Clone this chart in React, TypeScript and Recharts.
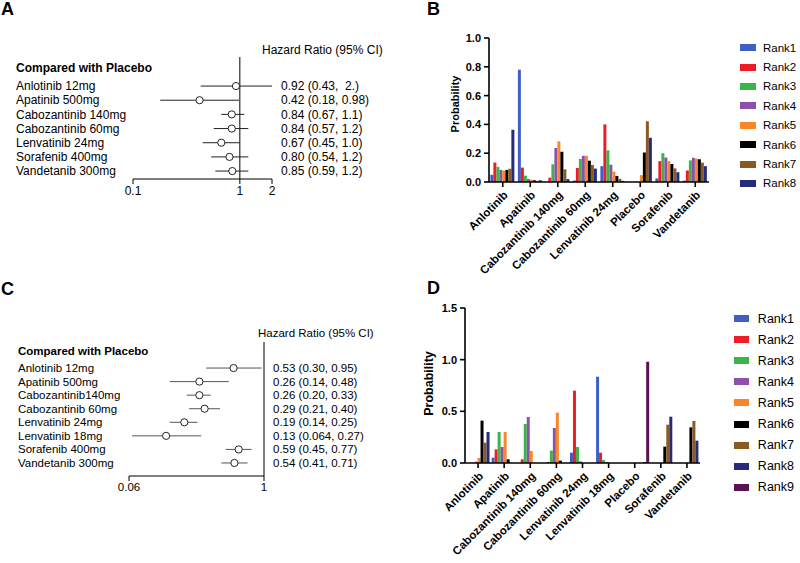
import React from 'react';
import {
  ScatterChart, Scatter, XAxis, YAxis, ErrorBar, ReferenceLine,
  BarChart, Bar, Legend,
} from 'recharts';

const FONT = '"Liberation Sans", Arial, Helvetica, sans-serif';

// ---- panel A: HR vs placebo (forest) ----
const drugsA = ['Anlotinib 12mg', 'Apatinib 500mg', 'Cabozantinib 140mg', 'Cabozantinib 60mg', 'Lenvatinib 24mg', 'Sorafenib 400mg', 'Vandetanib 300mg'];
const hrA = [0.92, 0.42, 0.84, 0.84, 0.67, 0.80, 0.85];
const lowA = [0.43, 0.18, 0.67, 0.57, 0.45, 0.54, 0.59];
const highA = [2.0, 0.98, 1.1, 1.2, 1.0, 1.2, 1.2];
const ciTextA = ['0.92 (0.43,  2.)', '0.42 (0.18, 0.98)', '0.84 (0.67, 1.1)', '0.84 (0.57, 1.2)', '0.67 (0.45, 1.0)', '0.80 (0.54, 1.2)', '0.85 (0.59, 1.2)'];
const ticksA = [0.1, 1, 2];

// ---- panel C: HR vs placebo (forest) ----
const drugsC = ['Anlotinib 12mg', 'Apatinib 500mg', 'Cabozantinib140mg', 'Cabozantinib 60mg', 'Lenvatinib 24mg', 'Lenvatinib 18mg', 'Sorafenib 400mg', 'Vandetanib 300mg'];
const hrC = [0.53, 0.26, 0.26, 0.29, 0.19, 0.13, 0.59, 0.54];
const lowC = [0.30, 0.14, 0.20, 0.21, 0.14, 0.064, 0.45, 0.41];
const highC = [0.95, 0.48, 0.33, 0.40, 0.25, 0.27, 0.77, 0.71];
const ciTextC = ['0.53 (0.30, 0.95)', '0.26 (0.14, 0.48)', '0.26 (0.20, 0.33)', '0.29 (0.21, 0.40)', '0.19 (0.14, 0.25)', '0.13 (0.064, 0.27)', '0.59 (0.45, 0.77)', '0.54 (0.41, 0.71)'];
const ticksC = [0.06, 1];

// ---- panel B: rank probabilities ----
const groupsB = ['Anlotinib', 'Apatinib', 'Cabozantinib 140mg', 'Cabozantinib 60mg', 'Lenvatinib 24mg', 'Placebo', 'Sorafenib', 'Vandetanib'];
const rank1B = [0.05, 0.78, 0, 0.01, 0.11, 0, 0.025, 0.01];
const rank2B = [0.135, 0.10, 0.03, 0.097, 0.40, 0, 0.145, 0.08];
const rank3B = [0.105, 0.044, 0.123, 0.16, 0.22, 0, 0.20, 0.15];
const rank4B = [0.084, 0.021, 0.236, 0.182, 0.12, 0, 0.17, 0.168];
const rank5B = [0.079, 0.016, 0.282, 0.182, 0.072, 0.048, 0.145, 0.163];
const rank6B = [0.084, 0.012, 0.21, 0.148, 0.042, 0.205, 0.125, 0.158];
const rank7B = [0.092, 0.008, 0.088, 0.118, 0.022, 0.422, 0.095, 0.134];
const rank8B = [0.363, 0.012, 0.02, 0.093, 0.008, 0.307, 0.068, 0.11];
const ticksB = [0, 0.2, 0.4, 0.6, 0.8, 1.0];

// ---- panel D: rank probabilities ----
const groupsD = ['Anlotinib', 'Apatinib', 'Cabozantinib 140mg', 'Cabozantinib 60mg', 'Lenvatinib 24mg', 'Lenvatinib 18mg', 'Placebo', 'Sorafenib', 'Vandetanib'];
const rank1D = [0, 0.052, 0, 0, 0.10, 0.835, 0, 0, 0];
const rank2D = [0, 0.132, 0.036, 0.01, 0.70, 0.10, 0, 0, 0];
const rank3D = [0, 0.30, 0.378, 0.12, 0.155, 0.03, 0, 0, 0];
const rank4D = [0.013, 0.155, 0.445, 0.339, 0.016, 0.01, 0, 0, 0];
const rank5D = [0.048, 0.30, 0.116, 0.487, 0, 0, 0, 0, 0];
const rank6D = [0.41, 0.036, 0, 0.023, 0, 0, 0, 0.158, 0.345];
const rank7D = [0.197, 0, 0, 0, 0, 0, 0, 0.371, 0.407];
const rank8D = [0.30, 0, 0, 0, 0, 0, 0.01, 0.448, 0.216];
const rank9D = [0, 0, 0, 0, 0, 0, 0.98, 0, 0];
const ticksD = [0, 0.5, 1.0, 1.5];

const RANK_COLORS = ['#3f5fc4', '#ee1c25', '#3bb44a', '#8e50ad', '#f7882a', '#000000', '#8a5a24', '#272b7c', '#5b1250'];

const rowsA = drugsA.map((d, i) => ({ row: i, hr: hrA[i], err: [hrA[i] - lowA[i], highA[i] - hrA[i]] }));
const rowsC = drugsC.map((d, i) => ({ row: i, hr: hrC[i], err: [hrC[i] - lowC[i], highC[i] - hrC[i]] }));

const rankSeriesB = [rank1B, rank2B, rank3B, rank4B, rank5B, rank6B, rank7B, rank8B];
const rankSeriesD = [rank1D, rank2D, rank3D, rank4D, rank5D, rank6D, rank7D, rank8D, rank9D];
const toRows = (groups: string[], series: number[][]) =>
  groups.map((g, i) => {
    const r: any = { name: g };
    series.forEach((s, k) => { r['Rank' + (k + 1)] = s[i]; });
    return r;
  });
const rowsB = toRows(groupsB, rankSeriesB);
const rowsD = toRows(groupsD, rankSeriesD);

function Txt({ x, cy, size, bold, children }: any) {
  return (
    <div style={{ position: 'absolute', left: x, top: cy - 10, lineHeight: '20px', fontSize: size, fontWeight: bold ? 'bold' : 'normal', whiteSpace: 'pre' }}>
      {children}
    </div>
  );
}

function ForestTick({ y, payload, labels, values, labelX, valueX, size }: any) {
  const i = payload.value;
  return (
    <g fontFamily={FONT} fontSize={size} fill="#000">
      <text x={labelX} y={y} dy="0.35em" textAnchor="start">{labels[i]}</text>
      <text x={valueX} y={y} dy="0.35em" textAnchor="start" style={{ whiteSpace: 'pre' }}>{values[i]}</text>
    </g>
  );
}

function Dot({ cx, cy, stroke }: any) {
  return <circle cx={cx} cy={cy} r={3.6} fill="#fff" stroke={stroke} strokeWidth={1} />;
}

function Forest({ rows, labels, values, ticks, domain, yDomain, height, margin, axisW, labelX, valueX, size, lineColor }: any) {
  return (
    <ScatterChart width={400} height={height} margin={margin}>
      <XAxis type="number" dataKey="hr" scale="log" domain={domain} ticks={ticks} allowDataOverflow interval={0}
        height={30} tickSize={5} tickMargin={2}
        tickFormatter={(v: number) => String(v)}
        tick={{ fontSize: size, fill: '#000', fontFamily: FONT }}
        axisLine={{ stroke: '#000' }} tickLine={{ stroke: '#000' }} />
      <YAxis type="number" dataKey="row" domain={yDomain} reversed allowDataOverflow interval={0}
        ticks={rows.map((r: any) => r.row)} width={axisW} axisLine={false} tickLine={false}
        tick={(p: any) => <ForestTick {...p} labels={labels} values={values} labelX={labelX} valueX={valueX} size={size} />} />
      <ReferenceLine x={1} stroke="#000" strokeWidth={1} />
      <Scatter data={rows} isAnimationActive={false} shape={(p: any) => <Dot {...p} stroke="#222" />}>
        <ErrorBar dataKey="err" direction="x" width={0} stroke={lineColor} strokeWidth={1} />
      </Scatter>
    </ScatterChart>
  );
}

function SlantTick({ x, y, payload }: any) {
  return (
    <text x={x + 3} y={y + 4} dy="0.35em" textAnchor="end" transform={`rotate(-45, ${x + 3}, ${y + 4})`}
      fontFamily={FONT} fontSize={11.5} fontWeight="bold" fill="#000">
      {payload.value}
    </text>
  );
}

function RankLegend({ payload, rowH, size, gap }: any) {
  return (
    <div style={{ fontFamily: FONT, fontSize: size, color: '#000' }}>
      {(payload || []).map((p: any) => (
        <div key={p.value} style={{ height: rowH, display: 'flex', alignItems: 'center' }}>
          <span style={{ display: 'inline-block', width: 16, height: 7, background: p.color, marginRight: gap }} />
          <span>{p.value}</span>
        </div>
      ))}
    </div>
  );
}

function RankChart({ rows, nRanks, ticks, domain, height, margin, axisW, xAxisH, catGap, labelDx, labelDy, labelSize, legendPos, legendRowH, legendSize, legendGap }: any) {
  const axisStyle = { stroke: '#000', strokeWidth: 1.6 };
  return (
    <BarChart width={400} height={height} data={rows} margin={margin} barCategoryGap={catGap} barGap={0}>
      <XAxis dataKey="name" type="category" interval={0} height={xAxisH} tickSize={5} tickMargin={2}
        tick={<SlantTick />} axisLine={axisStyle} tickLine={axisStyle} />
      <YAxis type="number" domain={domain} ticks={ticks} width={axisW} tickSize={5} tickMargin={3} interval={0}
        tickFormatter={(v: number) => v.toFixed(1)}
        tick={{ fontSize: 11, fontWeight: 'bold', fill: '#000', fontFamily: FONT }}
        axisLine={axisStyle} tickLine={axisStyle}
        label={{ value: 'Probability', angle: -90, position: 'center', dx: labelDx, dy: labelDy, fontSize: labelSize, fontWeight: 'bold', fill: '#000', fontFamily: FONT }} />
      {RANK_COLORS.slice(0, nRanks).map((c, k) => (
        <Bar key={k} dataKey={'Rank' + (k + 1)} name={'Rank' + (k + 1)} fill={c} isAnimationActive={false} />
      ))}
      <Legend layout="vertical" align="center" verticalAlign="middle"
        wrapperStyle={{ left: legendPos[0], top: legendPos[1], width: 60 }}
        content={(p: any) => <RankLegend payload={p.payload} rowH={legendRowH} size={legendSize} gap={legendGap} />} />
    </BarChart>
  );
}

export default function App() {
  return (
    <div style={{ position: 'absolute', left: 0, top: 0, width: 800, height: 563, background: '#fff', fontFamily: FONT, color: '#000', overflow: 'hidden' }}>
      {/* A */}
      <div style={{ position: 'absolute', left: 0, top: 0 }}>
        <Forest rows={rowsA} labels={drugsA} values={ciTextA} ticks={ticksA} domain={[0.1, 2]} yDomain={[-2.05, 6.56]}
          height={215} margin={{ top: 57, right: 128, bottom: 6, left: 0 }} axisW={133} labelX={16} valueX={281} size={12} lineColor="#222" />
      </div>
      <Txt x={1} cy={9} size={18} bold>A</Txt>
      <Txt x={16} cy={68} size={12} bold>Compared with Placebo</Txt>
      <Txt x={262} cy={50} size={12}>Hazard Ratio (95% CI)</Txt>

      {/* C */}
      <div style={{ position: 'absolute', left: 0, top: 280 }}>
        <Forest rows={rowsC} labels={drugsC} values={ciTextC} ticks={ticksC} domain={[0.06, 1]} yDomain={[-1.92, 7.96]}
          height={230} margin={{ top: 62, right: 136, bottom: 4, left: 0 }} axisW={129} labelX={18} valueX={273} size={11.5} lineColor="#555" />
      </div>
      <Txt x={1} cy={289} size={18} bold>C</Txt>
      <Txt x={18} cy={351} size={11.5} bold>Compared with Placebo</Txt>
      <Txt x={258} cy={333} size={11.5}>Hazard Ratio (95% CI)</Txt>

      {/* B */}
      <div style={{ position: 'absolute', left: 400, top: 0 }}>
        <RankChart rows={rowsB} nRanks={8} ticks={ticksB} domain={[0, 1]} height={280}
          margin={{ top: 38, right: 91, bottom: 0, left: 30 }} axisW={59} xAxisH={98} catGap="5%"
          labelDx={-4.5} labelDy={-6} labelSize={11}
          legendPos={[340, 38]} legendRowH={19.4} legendSize={11.5} legendGap={7} />
      </div>
      <Txt x={427} cy={9} size={18} bold>B</Txt>

      {/* D */}
      <div style={{ position: 'absolute', left: 400, top: 280 }}>
        <RankChart rows={rowsD} nRanks={9} ticks={ticksD} domain={[0, 1.5]} height={283}
          margin={{ top: 28, right: 100, bottom: 0, left: 10 }} axisW={55} xAxisH={100} catGap="2%"
          labelDx={-8.5} labelDy={-2} labelSize={12.5}
          legendPos={[334, 28]} legendRowH={21.1} legendSize={12.5} legendGap={9} />
      </div>
      <Txt x={427} cy={288} size={18} bold>D</Txt>
    </div>
  );
}
